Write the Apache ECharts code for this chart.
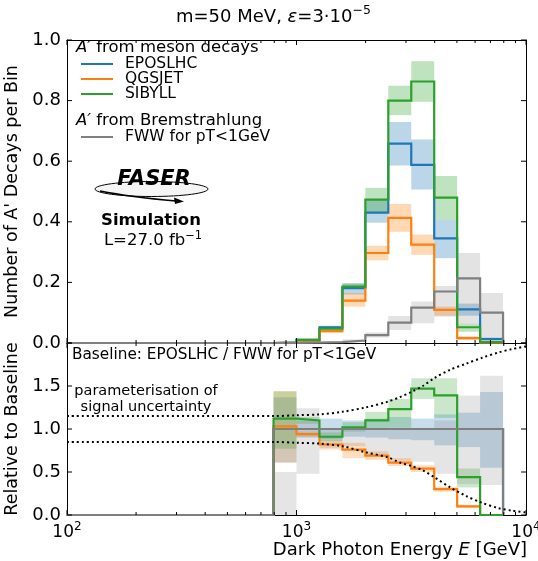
<!DOCTYPE html>
<html>
<head>
<meta charset="utf-8">
<script src="https://cdn.jsdelivr.net/npm/echarts@6/dist/echarts.min.js"></script>
<style>html,body{margin:0;padding:0;background:#fff}#c{width:538px;height:561px}</style>
</head>
<body>
<div id="c"></div>
<script>
// ---------- data ----------
const binEdges = [794.3, 1000, 1258.9, 1584.9, 1995.3, 2511.9, 3162.3, 3981.1, 5011.9, 6309.6, 7943.3];
const xMin = 100, xMax = 10000;

// top panel: A' decays per bin
const eposlhc = [0.001, 0.010, 0.052, 0.181, 0.430, 0.658, 0.588, 0.345, 0.111, 0.013];
const qgsjet  = [0.001, 0.006, 0.039, 0.140, 0.297, 0.413, 0.325, 0.109, 0.016, 0.001];
const sibyll  = [0.001, 0.010, 0.047, 0.186, 0.473, 0.800, 0.863, 0.480, 0.052, 0.003];
const fww     = [0.0005, 0.001, 0.003, 0.008, 0.026, 0.067, 0.117, 0.170, 0.213, 0.100];

const eposlhcLo = [0.000, 0.007, 0.048, 0.160, 0.397, 0.586, 0.507, 0.280, 0.090, 0.008];
const eposlhcHi = [0.002, 0.012, 0.057, 0.198, 0.473, 0.729, 0.672, 0.407, 0.130, 0.018];
const qgsjetLo  = [0.000, 0.004, 0.034, 0.120, 0.273, 0.367, 0.291, 0.090, 0.010, 0.000];
const qgsjetHi  = [0.002, 0.008, 0.044, 0.165, 0.321, 0.459, 0.358, 0.120, 0.022, 0.002];
const sibyllLo  = [0.000, 0.007, 0.043, 0.180, 0.430, 0.752, 0.796, 0.407, 0.037, 0.000];
const sibyllHi  = [0.002, 0.013, 0.052, 0.195, 0.512, 0.849, 0.930, 0.551, 0.065, 0.006];
const fwwLo     = [0.000, 0.000, 0.001, 0.004, 0.018, 0.043, 0.065, 0.087, 0.065, 0.010];
const fwwHi     = [0.001, 0.002, 0.005, 0.012, 0.035, 0.089, 0.137, 0.188, 0.297, 0.165];

// bottom panel: ratios to baseline
const ratioEposlhc = [1, 1, 1, 1, 1, 1, 1, 1, 1, 1];
const ratioQgsjet  = [1.03, 0.94, 0.82, 0.76, 0.69, 0.61, 0.54, 0.30, 0.10, 0];
const ratioSibyll  = [1.12, 1.10, 0.91, 1.02, 1.10, 1.23, 1.47, 1.39, 0.44, 0];
const ratioFww     = [1, 1, 1, 1, 1, 1, 1, 1, 1, 1];

const ratioEposlhcLo = [0.61, 0.90, 0.88, 0.91, 0.90, 0.88, 0.87, 0.81, 0.79, 0.55];
const ratioEposlhcHi = [1.37, 1.10, 1.12, 1.10, 1.12, 1.14, 1.12, 1.17, 1.19, 1.43];
const ratioQgsjetLo  = [0.61, 0.91, 0.76, 0.66, 0.64, 0.57, 0.50, 0.27, 0.08, 0];
const ratioQgsjetHi  = [1.44, 0.97, 0.87, 0.84, 0.74, 0.66, 0.58, 0.33, 0.12, 0];
const ratioSibyllLo  = [0.77, 1.06, 0.86, 0.97, 1.00, 1.02, 1.35, 1.13, 0.32, 0];
const ratioSibyllHi  = [1.44, 1.14, 0.96, 1.08, 1.20, 1.35, 1.59, 1.59, 0.54, 0];
const ratioFwwLo     = [0.00, 0.48, 0.78, 0.80, 0.69, 0.63, 0.62, 0.48, 0.36, 0.35];
const ratioFwwHi     = [0.50, 1.24, 1.00, 1.00, 1.00, 1.02, 1.00, 1.10, 1.39, 1.62];

// signal uncertainty parameterisation (dotted)
const paramE     = [100, 794, 1000, 1259, 1585, 1995, 2512, 2818, 3162, 3548, 3981, 4677, 5495, 6457, 7586, 8710, 10000];
const paramUpper = [1.15, 1.15, 1.16, 1.17, 1.20, 1.25, 1.32, 1.37, 1.43, 1.50, 1.59, 1.69, 1.76, 1.83, 1.89, 1.93, 1.96];
const paramLower = [0.85, 0.85, 0.84, 0.83, 0.80, 0.73, 0.67, 0.61, 0.57, 0.52, 0.44, 0.32, 0.22, 0.14, 0.08, 0.05, 0.03];

// tick positions
const xMajorTicks = [100, 1000, 10000];
const xMinorTicks = [200, 300, 400, 500, 600, 700, 800, 900, 2000, 3000, 4000, 5000, 6000, 7000, 8000, 9000];
const yTopTicks = [0, 0.2, 0.4, 0.6, 0.8, 1.0];
const yBotTicks = [0, 0.5, 1.0, 1.5, 2.0];
const yBotLabels = [0, 0.5, 1.0, 1.5];

// ---------- helpers ----------
const C = {blue:'#1f77b4', orange:'#ff7f0e', green:'#2ca02c', gray:'#7f7f7f'};
const FONT = 'DejaVu Sans';

function stepPoints(vals){
  const pts = [[xMin, 0], [binEdges[0], 0]];
  vals.forEach((v,i)=>{ pts.push([binEdges[i], v]); pts.push([binEdges[i+1], v]); });
  pts.push([binEdges[binEdges.length-1], 0]);
  return pts;
}
function bandData(lo, hi){
  return lo.map((l,i)=>[binEdges[i], binEdges[i+1], l, hi[i]]);
}
function bandSeries(lo, hi, color, xi, yi){
  return {
    type:'custom', xAxisIndex:xi, yAxisIndex:yi, silent:true, z:1,
    data: bandData(lo, hi),
    encode:{x:[0,1], y:[2,3]},
    renderItem:function(params, api){
      const p0 = api.coord([api.value(0), api.value(2)]);
      const p1 = api.coord([api.value(1), api.value(3)]);
      return {type:'rect', shape:{x:p0[0], y:p1[1], width:p1[0]-p0[0], height:p0[1]-p1[1]}, style:{fill:color}};
    }
  };
}
function stepSeries(vals, color, xi, yi, z){
  return {type:'line', xAxisIndex:xi, yAxisIndex:yi, data:stepPoints(vals), showSymbol:false, symbol:'none',
    silent:true, z:z, lineStyle:{color:color, width:2.2, join:'miter', cap:'butt'}};
}
// inward ticks on all four sides, positioned through the axes' own scales
function xTickSeries(vals, len, yMin, yMax, xi, yi){
  return {type:'custom', xAxisIndex:xi, yAxisIndex:yi, silent:true, z:10, clip:false,
    data: vals.map(v=>[v, yMin, yMax]), encode:{x:0, y:[1,2]},
    renderItem:function(params, api){
      const b = api.coord([api.value(0), api.value(1)]);
      const t = api.coord([api.value(0), api.value(2)]);
      const st = {stroke:'#000', lineWidth:1};
      return {type:'group', children:[
        {type:'line', shape:{x1:b[0], y1:b[1], x2:b[0], y2:b[1]-len}, style:st},
        {type:'line', shape:{x1:t[0], y1:t[1], x2:t[0], y2:t[1]+len}, style:st}
      ]};
    }};
}
function yTickSeries(vals, len, xi, yi){
  return {type:'custom', xAxisIndex:xi, yAxisIndex:yi, silent:true, z:10, clip:false,
    data: vals.map(v=>[xMin, xMax, v]), encode:{x:[0,1], y:2},
    renderItem:function(params, api){
      const l = api.coord([api.value(0), api.value(2)]);
      const r = api.coord([api.value(1), api.value(2)]);
      const st = {stroke:'#000', lineWidth:1};
      return {type:'group', children:[
        {type:'line', shape:{x1:l[0], y1:l[1], x2:l[0]+len, y2:l[1]}, style:st},
        {type:'line', shape:{x1:r[0], y1:r[1], x2:r[0]-len, y2:r[1]}, style:st}
      ]};
    }};
}

function axisLineStyle(){ return {show:true, onZero:false, lineStyle:{color:'#000', width:1}}; }

function xAx(grid, pos, labels){
  return {type:'log', logBase:10, gridIndex:grid, position:pos, min:xMin, max:xMax,
    axisLine:axisLineStyle(), axisTick:{show:false}, minorTick:{show:false}, splitLine:{show:false}, minorSplitLine:{show:false},
    axisLabel: labels ? {show:true, margin:6, fontFamily:FONT, fontSize:17, color:'#000',
      formatter:function(v){ return '10{s|' + Math.round(Math.log10(v)) + '}'; },
      rich:{s:{fontSize:12, fontFamily:FONT, color:'#000', padding:[0,0,11,0]}}} : {show:false}};
}
function yAx(grid, pos, min, max, interval, labels, name, gap){
  return {type:'value', gridIndex:grid, position:pos, min:min, max:max, interval:interval,
    axisLine:axisLineStyle(), axisTick:{show:false}, splitLine:{show:false},
    name: name || '', nameLocation:'middle', nameGap: gap || 0, nameRotate:90,
    nameTextStyle:{fontFamily:FONT, fontSize:17.5, color:'#000'},
    axisLabel: labels ? {show:true, margin:6, fontFamily:FONT, fontSize:18, color:'#000',
      formatter:function(v){ return labels.some(t=>Math.abs(t-v)<1e-9) ? v.toFixed(1) : ''; }} : {show:false}};
}

const chart = echarts.init(document.getElementById('c'), null, {renderer:'canvas'});

const legX = 81, legTX = 125;
function legLine(y, color){ return {type:'line', shape:{x1:legX, y1:y, x2:legX+32, y2:y}, style:{stroke:color, lineWidth:2}}; }
function legText(x, y, t){ return {type:'text', x:x, y:y, style:{text:t, fontFamily:FONT, fontSize:15.5, fill:'#000', verticalAlign:'middle'}}; }
function richText(x, y, t, size){
  return {type:'text', x:x, y:y, style:{text:t, fontFamily:FONT, fontSize:size, fill:'#000', verticalAlign:'middle',
    rich:{i:{fontStyle:'italic', fontFamily:FONT, fontSize:size, fill:'#000'}}}};
}

const option = {
  backgroundColor:'#fff',
  animation:false,
  grid:[
    {left:67, top:40, width:459, height:303, containLabel:false, outerBoundsMode:'none'},
    {left:67, top:343, width:459, height:172, containLabel:false, outerBoundsMode:'none'}
  ],
  xAxis:[ xAx(0,'bottom',false), xAx(0,'top',false), xAx(1,'bottom',true), xAx(1,'top',false) ],
  yAxis:[
    yAx(0,'left',0,1,0.2,yTopTicks,"Number of A' Decays per Bin",45),
    yAx(0,'right',0,1,0.2,null),
    yAx(1,'left',0,2,0.5,yBotLabels,'Relative to Baseline',45),
    yAx(1,'right',0,2,0.5,null)
  ],
  series:[
    bandSeries(eposlhcLo, eposlhcHi, 'rgba(31,119,180,0.3)', 0, 0),
    bandSeries(qgsjetLo, qgsjetHi, 'rgba(255,127,14,0.3)', 0, 0),
    bandSeries(sibyllLo, sibyllHi, 'rgba(44,160,44,0.3)', 0, 0),
    bandSeries(fwwLo, fwwHi, 'rgba(127,127,127,0.22)', 0, 0),
    stepSeries(eposlhc, C.blue, 0, 0, 3),
    stepSeries(qgsjet, C.orange, 0, 0, 3),
    stepSeries(sibyll, C.green, 0, 0, 3),
    stepSeries(fww, C.gray, 0, 0, 3),

    bandSeries(ratioEposlhcLo, ratioEposlhcHi, 'rgba(31,119,180,0.25)', 2, 2),
    bandSeries(ratioQgsjetLo, ratioQgsjetHi, 'rgba(255,127,14,0.25)', 2, 2),
    bandSeries(ratioSibyllLo, ratioSibyllHi, 'rgba(44,160,44,0.25)', 2, 2),
    bandSeries(ratioFwwLo, ratioFwwHi, 'rgba(127,127,127,0.2)', 2, 2),
    stepSeries(ratioEposlhc, C.blue, 2, 2, 3),
    stepSeries(ratioQgsjet, C.orange, 2, 2, 3),
    stepSeries(ratioSibyll, C.green, 2, 2, 3),
    stepSeries(ratioFww, C.gray, 2, 2, 3),
    {type:'line', xAxisIndex:2, yAxisIndex:2, data:paramE.map((e,i)=>[e, paramUpper[i]]), smooth:0.3, symbol:'none', silent:true, z:4,
      lineStyle:{color:'#000', width:2, type:[2,3], cap:'butt'}},
    {type:'line', xAxisIndex:2, yAxisIndex:2, data:paramE.map((e,i)=>[e, paramLower[i]]), smooth:0.3, symbol:'none', silent:true, z:4,
      lineStyle:{color:'#000', width:2, type:[2,3], cap:'butt'}},

    // ticks
    xTickSeries(xMajorTicks, 5, 0, 1, 0, 0),
    xTickSeries(xMinorTicks, 3, 0, 1, 0, 0),
    yTickSeries(yTopTicks, 5, 0, 0),
    xTickSeries(xMajorTicks, 5, 0, 2, 2, 2),
    xTickSeries(xMinorTicks, 3, 0, 2, 2, 2),
    yTickSeries(yBotTicks, 5, 2, 2)
  ],
  graphic:[
    // title
    {type:'text', x:176, y:17, style:{text:'m=50 MeV, {i|ε}=3·10{s|−5}', fontFamily:FONT, fontSize:18, fill:'#000', verticalAlign:'middle',
      rich:{i:{fontStyle:'italic', fontFamily:FONT, fontSize:18, fill:'#000'}, s:{fontFamily:FONT, fontSize:12.5, fill:'#000', padding:[0,0,12,0]}}}},
    // legend
    richText(76, 48, "{i|A′} from meson decays", 16.5),
    legLine(64, C.blue), legText(legTX, 64, 'EPOSLHC'),
    legLine(79, C.orange), legText(legTX, 79, 'QGSJET'),
    legLine(94, C.green), legText(legTX, 94, 'SIBYLL'),
    richText(76, 121, "{i|A′} from Bremstrahlung", 16.5),
    legLine(137, C.gray), legText(legTX, 137, 'FWW for pT<1GeV'),
    // FASER logo
    {type:'ellipse', shape:{cx:151.5, cy:189, rx:56.5, ry:7.5}, style:{fill:'rgba(0,0,0,0.04)', stroke:'#000', lineWidth:1}},
    {type:'text', x:154, y:180, style:{text:'FASER', fontFamily:'DejaVu Sans', fontWeight:'bold', fontStyle:'italic', fontSize:21, fill:'#000', align:'center', verticalAlign:'middle'}},
    {type:'bezierCurve', shape:{x1:100, y1:191, cpx1:130, cpy1:197, x2:176, y2:201}, style:{stroke:'#000', lineWidth:1.5, fill:null}},
    {type:'polygon', shape:{points:[[184,201.5],[174,197.5],[175,204]]}, style:{fill:'#000'}},
    {type:'text', x:151, y:221, style:{text:'Simulation', fontFamily:FONT, fontWeight:'bold', fontSize:16.5, fill:'#000', align:'center', verticalAlign:'middle'}},
    {type:'text', x:153, y:241, style:{text:'L=27.0 fb{s|−1}', fontFamily:FONT, fontSize:16.5, fill:'#000', align:'center', verticalAlign:'middle',
      rich:{s:{fontFamily:FONT, fontSize:11.5, fill:'#000', padding:[0,0,10,0]}}}},
    // ratio panel texts
    {type:'text', x:72, y:355, style:{text:'Baseline: EPOSLHC / FWW for pT<1GeV', fontFamily:FONT, fontSize:15.3, fill:'#000', verticalAlign:'middle'}},
    {type:'text', x:146, y:391, style:{text:'parameterisation of', fontFamily:FONT, fontSize:14.5, fill:'#000', align:'center', verticalAlign:'middle'}},
    {type:'text', x:146, y:407, style:{text:'signal uncertainty', fontFamily:FONT, fontSize:14.5, fill:'#000', align:'center', verticalAlign:'middle'}},
    // x axis title
    {type:'text', x:527, y:550, style:{text:'Dark Photon Energy {i|E} [GeV]', fontFamily:FONT, fontSize:18, fill:'#000', align:'right', verticalAlign:'middle',
      rich:{i:{fontStyle:'italic', fontFamily:FONT, fontSize:18, fill:'#000'}}}}
  ]
};
chart.setOption(option);
</script>
</body>
</html>
